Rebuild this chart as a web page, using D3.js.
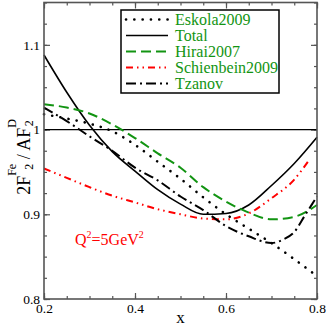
<!DOCTYPE html>
<html>
<head>
<meta charset="utf-8">
<script src="https://cdn.jsdelivr.net/npm/d3@7"></script>
<style>
  body { margin: 0; background: #fff; }
</style>
</head>
<body>
<svg id="chart" width="327" height="327"></svg>
<script>
// values
const eskolaX = [0.2, 0.25, 0.3, 0.35, 0.4, 0.45, 0.5, 0.55, 0.6, 0.65, 0.7, 0.75, 0.8]
const eskolaY = [1.018, 1.013, 1.007, 0.998, 0.982, 0.962, 0.942, 0.920, 0.900, 0.883, 0.866, 0.847, 0.827]
const totalX = [0.2, 0.25, 0.3, 0.35, 0.4, 0.45, 0.5, 0.55, 0.6, 0.65, 0.7, 0.75, 0.8]
const totalY = [1.088, 1.044, 1.005, 0.974, 0.951, 0.929, 0.912, 0.900, 0.901, 0.911, 0.934, 0.960, 0.991]
const hiraiX = [0.2, 0.25, 0.3, 0.35, 0.4, 0.45, 0.5, 0.55, 0.6, 0.65, 0.7, 0.75, 0.8]
const hiraiY = [1.030, 1.026, 1.019, 1.006, 0.990, 0.972, 0.955, 0.932, 0.915, 0.902, 0.894, 0.897, 0.911]
const schienX = [0.2, 0.25, 0.3, 0.35, 0.4, 0.45, 0.5, 0.55, 0.6, 0.65, 0.7, 0.75, 0.78]
const schienY = [0.954, 0.943, 0.932, 0.922, 0.914, 0.906, 0.900, 0.895, 0.894, 0.901, 0.919, 0.941, 0.962]
const tzanovX = [0.2, 0.25, 0.3, 0.35, 0.4, 0.45, 0.5, 0.55, 0.6, 0.65, 0.7, 0.725, 0.75, 0.775, 0.8]
const tzanovY = [1.026, 1.010, 0.992, 0.975, 0.955, 0.940, 0.921, 0.905, 0.886, 0.874, 0.866, 0.870, 0.879, 0.900, 0.921]

const seriesNames = ["Eskola2009", "Total", "Hirai2007", "Schienbein2009", "Tzanov"]
const xTicks = [0.2, 0.4, 0.6, 0.8]
const xTickLabels = ["0.2", "0.4", "0.6", "0.8"]
const yTicks = [0.8, 0.9, 1.0, 1.1]
const yTickLabels = ["0.8", "0.9", "1", "1.1"]

const serif = "Liberation Serif"
const green = "#129412"
const svg = d3.select("#chart")

const plot = { left: 44, right: 317, top: 2.5, bottom: 299 }

const xScale = d3.scaleLinear().domain([0.2, 0.8]).range([plot.left, plot.right])
const yScale = d3.scaleLinear().domain([0.8, 1.15]).range([plot.bottom, plot.top])

const series = [
    { name: seriesNames[0], xs: eskolaX, ys: eskolaY, color: "black", dash: "0.1,8.2", cap: "round", width: 2.6 },
    { name: seriesNames[1], xs: totalX, ys: totalY, color: "black", dash: null, cap: "butt", width: 1.6 },
    { name: seriesNames[2], xs: hiraiX, ys: hiraiY, color: green, dash: "10,5", cap: "butt", width: 2 },
    { name: seriesNames[3], xs: schienX, ys: schienY, color: "#ff0000", dash: "7,4,1.5,4,1.5,4", cap: "butt", width: 2 },
    { name: seriesNames[4], xs: tzanovX, ys: tzanovY, color: "black", dash: "10,4,2,4", cap: "butt", width: 2 }
]

// minor + major ticks, pointing inward on all four sides
const xMinor = d3.range(0.2, 0.8001, 0.05)
const yMinor = d3.range(0.8, 1.1501, 0.025)

function tickAxis(axisFn, scale, values, size, transform, labels) {
    const axis = axisFn(scale).tickValues(values).tickSize(-size).tickPadding(4)
    if (labels) {
        axis.tickFormat((d, i) => labels[i])
    } else {
        axis.tickFormat("")
    }
    const g = svg.append("g").attr("transform", transform).call(axis)
    g.style("font-family", serif)
    g.select(".domain").remove()
    g.selectAll("line").attr("stroke", "#555").attr("stroke-width", 1.2)
    return g
}

tickAxis(d3.axisBottom, xScale, xMinor, 3, `translate(0,${plot.bottom})`)
tickAxis(d3.axisTop, xScale, xMinor, 3, `translate(0,${plot.top})`)
tickAxis(d3.axisLeft, yScale, yMinor, 3, `translate(${plot.left},0)`)
tickAxis(d3.axisRight, yScale, yMinor, 3, `translate(${plot.right},0)`)
tickAxis(d3.axisTop, xScale, xTicks, 6, `translate(0,${plot.top})`)
tickAxis(d3.axisRight, yScale, yTicks, 6, `translate(${plot.right},0)`)

const xAxisG = tickAxis(d3.axisBottom, xScale, xTicks, 6, `translate(0,${plot.bottom})`, xTickLabels)
xAxisG.selectAll("text").attr("font-size", 13.5).attr("fill", "black")
const yAxisG = tickAxis(d3.axisLeft, yScale, yTicks, 6, `translate(${plot.left},0)`, yTickLabels)
yAxisG.selectAll("text").attr("font-size", 13.5).attr("fill", "black")

// reference line at 1
svg.append("line")
    .attr("x1", xScale(0.2))
    .attr("x2", xScale(0.8))
    .attr("y1", yScale(1))
    .attr("y2", yScale(1))
    .attr("stroke", "black")
    .attr("stroke-width", 1.2)

const line = d3.line()
    .x((d) => xScale(d[0]))
    .y((d) => yScale(d[1]))
    .curve(d3.curveMonotoneX)

const curveGroup = svg.append("g")
series.forEach((s) => {
    const pts = s.xs.map((x, i) => [x, s.ys[i]])
    curveGroup.append("path")
        .attr("d", line(pts))
        .attr("fill", "none")
        .attr("stroke", s.color)
        .attr("stroke-width", s.width)
        .attr("stroke-dasharray", s.dash)
        .attr("stroke-linecap", s.cap)
})

// frame
svg.append("rect")
    .attr("x", plot.left)
    .attr("y", plot.top)
    .attr("width", plot.right - plot.left)
    .attr("height", plot.bottom - plot.top)
    .attr("fill", "none")
    .attr("stroke", "#555")
    .attr("stroke-width", 1.6)

// legend
const legend = svg.append("g").style("font-family", serif)
legend.append("rect")
    .attr("x", 121)
    .attr("y", 10)
    .attr("width", 158)
    .attr("height", 83)
    .attr("fill", "white")
    .attr("stroke", "black")
    .attr("stroke-width", 1.5)

series.forEach((s, i) => {
    const y = 19.5 + i * 16
    legend.append("line")
        .attr("x1", 126)
        .attr("x2", 168)
        .attr("y1", y)
        .attr("y2", y)
        .attr("stroke", s.color)
        .attr("stroke-width", s.width)
        .attr("stroke-dasharray", s.dash)
        .attr("stroke-linecap", s.cap)
    legend.append("text")
        .attr("x", 175)
        .attr("y", y + 5.5)
        .attr("font-size", 16)
        .attr("fill", green)
        .text(s.name)
})

// Q^2 label
const q = svg.append("text")
    .attr("x", 75)
    .attr("y", 245)
    .style("font-family", serif)
    .attr("font-size", 16)
    .attr("fill", "#ff0000")
q.append("tspan").text("Q")
q.append("tspan").attr("font-size", 10).attr("dy", -7).text("2")
q.append("tspan").attr("dy", 7).text("=5GeV")
q.append("tspan").attr("font-size", 10).attr("dy", -7).text("2")

// x label
svg.append("text")
    .attr("x", (plot.left + plot.right) / 2)
    .attr("y", 323)
    .attr("text-anchor", "middle")
    .style("font-family", serif)
    .attr("font-size", 17)
    .text("x")

// y label: 2F^Fe_2 / AF^D_2
const yl = svg.append("text")
    .attr("transform", "translate(30,157) rotate(-90)")
    .attr("text-anchor", "middle")
    .style("font-family", serif)
    .attr("font-size", 18)
yl.append("tspan").text("2F")
yl.append("tspan").attr("font-size", 12).attr("dy", -14).text("Fe")
yl.append("tspan").attr("font-size", 12).attr("dx", -6).attr("dy", 17).text("2")
yl.append("tspan").attr("dy", -3).text("  / AF")
yl.append("tspan").attr("font-size", 12).attr("dy", -14).text("D")
yl.append("tspan").attr("font-size", 12).attr("dx", -7).attr("dy", 17).text("2")
</script>
</body>
</html>
